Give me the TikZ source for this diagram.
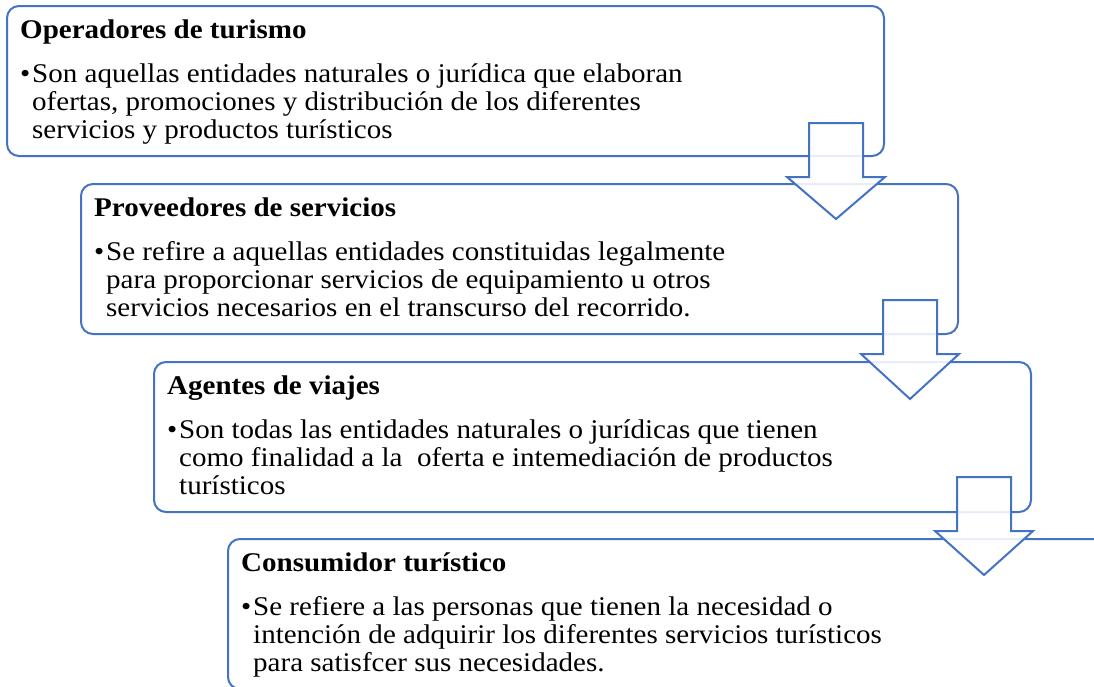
\documentclass[tikz,border=0pt]{standalone}
\usepackage{fontspec}
\setmainfont{Liberation Serif}[FakeStretch=1.075]
\usetikzlibrary{calc}

\definecolor{boxblue}{HTML}{4472C4}

\tikzset{
  stagebox/.style={draw=boxblue, line width=2pt, rounded corners=12pt, anchor=north west,
                   minimum width=877pt, minimum height=150pt, inner sep=0pt},
  stagetitle/.style={anchor=base west, inner sep=0pt, font=\fontsize{27}{28.3}\selectfont\bfseries},
  stagebullet/.style={anchor=base west, inner sep=0pt, font=\fontsize{27}{28.3}\selectfont},
  stagebody/.style={anchor=base west, inner sep=0pt, align=left, font=\fontsize{27}{28.3}\selectfont},
  bigarrow/.style={draw=boxblue, line width=2pt, fill=white, fill opacity=0.88, line join=miter},
}

\begin{document}
\begin{tikzpicture}[x=1pt, y=-1pt]
    \useasboundingbox (0,0) rectangle (1094,686);
    \clip (0,0) rectangle (1094,686);

    % the four stages
    \node[stagebox] (operadores)  at (6,5) {};
    \node[stagebox] (proveedores) at (80,183) {};
    \node[stagebox] (agentes)     at (153,361) {};
    \node[stagebox] (consumidor)  at (227,538) {};

    % block arrows from one stage to the next
    \coordinate (a1) at ($ (operadores.south east) + (-49,-34) $);
    \coordinate (a2) at ($ (proveedores.south east) + (-49,-35) $);
    \coordinate (a3) at ($ (agentes.south east) + (-48,-36) $);

    \draw[bigarrow] ($ (a1) + (-27,0) $) -- ($ (a1) + (27,0) $) -- ($ (a1) + (27,54) $) -- ($ (a1) + (49,54) $)
        -- ($ (a1) + (0,96) $) -- ($ (a1) + (-49,54) $) -- ($ (a1) + (-27,54) $) -- cycle;
    \draw[bigarrow] ($ (a2) + (-27,0) $) -- ($ (a2) + (27,0) $) -- ($ (a2) + (27,54) $) -- ($ (a2) + (49,54) $)
        -- ($ (a2) + (0,99) $) -- ($ (a2) + (-49,54) $) -- ($ (a2) + (-27,54) $) -- cycle;
    \draw[bigarrow] ($ (a3) + (-27,0) $) -- ($ (a3) + (27,0) $) -- ($ (a3) + (27,54) $) -- ($ (a3) + (49,54) $)
        -- ($ (a3) + (0,98) $) -- ($ (a3) + (-49,54) $) -- ($ (a3) + (-27,54) $) -- cycle;

    % texts (body nodes sit on the baseline of their last line)
    \node[stagetitle] (t1) at ($ (operadores.north west) + (14,33) $) {Operadores de turismo};
    \node[stagebullet] (b1) at ($ (operadores.north west) + (14,77) $) {\textbullet};
    \node[stagebody] (d1) at ($ (operadores.north west) + (26,133.6) $)
        {Son aquellas entidades naturales o jurídica que elaboran\\ofertas, promociones y distribución de los diferentes\\servicios y productos turísticos};

    \node[stagetitle] (t2) at ($ (proveedores.north west) + (14,33) $) {Proveedores de servicios};
    \node[stagebullet] (b2) at ($ (proveedores.north west) + (14,77) $) {\textbullet};
    \node[stagebody] (d2) at ($ (proveedores.north west) + (26,133.6) $)
        {Se refire a aquellas entidades constituidas legalmente\\para proporcionar servicios de equipamiento u otros\\servicios necesarios en el transcurso del recorrido.};

    \node[stagetitle] (t3) at ($ (agentes.north west) + (14,33) $) {Agentes de viajes};
    \node[stagebullet] (b3) at ($ (agentes.north west) + (14,77) $) {\textbullet};
    \node[stagebody] (d3) at ($ (agentes.north west) + (26,133.6) $)
        {Son todas las entidades naturales o jurídicas que tienen\\como finalidad a la\ \ oferta e intemediación de productos\\turísticos};

    \node[stagetitle] (t4) at ($ (consumidor.north west) + (14,33) $) {Consumidor turístico};
    \node[stagebullet] (b4) at ($ (consumidor.north west) + (14,77) $) {\textbullet};
    \node[stagebody] (d4) at ($ (consumidor.north west) + (26,133.6) $)
        {Se refiere a las personas que tienen la necesidad o\\intención de adquirir los diferentes servicios turísticos\\para satisfcer sus necesidades.};

\end{tikzpicture}
\end{document}
